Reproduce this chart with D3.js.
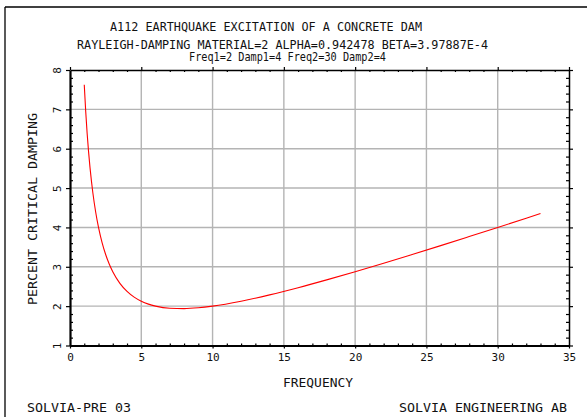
<!DOCTYPE html>
<html>
<head>
<meta charset="utf-8">
<script src="https://cdn.jsdelivr.net/npm/d3@7"></script>
<style>
  html, body { margin: 0; padding: 0; background: #fff; }
  svg { display: block; }
  text { font-family: "DejaVu Sans Mono", "Liberation Mono", monospace; fill: #111; }
</style>
</head>
<body>
<svg id="chart" width="587" height="417"></svg>
<script>
// Damping ratio (percent of critical) against frequency
const frequency = [1, 1.1, 1.2, 1.3, 1.4, 1.5, 1.6, 1.8, 2, 2.25, 2.5, 2.75, 3, 3.5, 4, 4.5, 5, 5.5, 6, 7, 8, 9, 10, 12, 14, 16, 18, 20, 22, 24, 26, 28, 30, 32, 33];
const damping   = [7.625, 6.956, 6.40, 5.932, 5.532, 5.188, 4.888, 4.392, 4.0, 3.615, 3.313, 3.071, 2.875, 2.580, 2.375, 2.229, 2.125, 2.051, 2.0, 1.946, 1.938, 1.958, 2.0, 2.125, 2.286, 2.469, 2.667, 2.875, 3.091, 3.313, 3.538, 3.768, 4.0, 4.234, 4.352];

const xTicks = [0, 5, 10, 15, 20, 25, 30, 35];
const yTicks = [1, 2, 3, 4, 5, 6, 7, 8];
const xGrid = [5, 10, 15, 20, 25, 30];
const yGrid = [2, 3, 4, 5, 6, 7];

const titleLines = [
  "A112 EARTHQUAKE EXCITATION OF A CONCRETE DAM",
  "RAYLEIGH-DAMPING MATERIAL=2 ALPHA=0.942478 BETA=3.97887E-4",
  "Freq1=2 Damp1=4 Freq2=30 Damp2=4"
];
const xTitle = "FREQUENCY";
const yTitle = "PERCENT CRITICAL DAMPING";
const footerLeft = "SOLVIA-PRE 03";
const footerRight = "SOLVIA ENGINEERING AB";

const svg = d3.select("#chart");

const x = d3.scaleLinear().domain([0, 35]).range([70, 569]);
const y = d3.scaleLinear().domain([1, 8]).range([345.5, 70]);

// page frame
svg.append("line").attr("x1", 5).attr("x2", 5).attr("y1", 7).attr("y2", 417)
  .attr("stroke", "#000").attr("stroke-width", 1.3);
svg.append("line").attr("x1", 5).attr("x2", 587).attr("y1", 7).attr("y2", 7)
  .attr("stroke", "#000").attr("stroke-width", 1.3);

// grid
svg.append("g").selectAll("line").data(xGrid).join("line")
  .attr("x1", d => x(d)).attr("x2", d => x(d))
  .attr("y1", y(8)).attr("y2", y(1))
  .attr("stroke", "#b4b4b4").attr("stroke-width", 1.4);
svg.append("g").selectAll("line").data(yGrid).join("line")
  .attr("x1", x(0)).attr("x2", x(35))
  .attr("y1", d => y(d)).attr("y2", d => y(d))
  .attr("stroke", "#b4b4b4").attr("stroke-width", 1.4);

const yMinor = d3.range(1, 8.001, 0.2).filter(v => Math.abs(v - Math.round(v)) > 1e-6);
const xMinor = d3.range(0, 35.001, 1).filter(v => v % 5 !== 0);

function styleAxis(g, width) {
  g.select(".domain").attr("stroke", "#000").attr("stroke-width", width);
  g.selectAll(".tick line").attr("stroke", "#000").attr("stroke-width", 1.2);
}

// left axis: major ticks outward with rotated labels
const axLeft = svg.append("g").attr("transform", `translate(${x(0)},0)`)
  .call(d3.axisLeft(y).tickValues(yTicks).tickSize(4).tickSizeOuter(0).tickFormat(d3.format("d")));
styleAxis(axLeft, 2.2);
axLeft.selectAll(".tick text")
  .attr("transform", "rotate(-90)")
  .attr("x", 0).attr("y", -9).attr("dy", 0)
  .attr("text-anchor", "middle")
  .style("font-size", "11px");
// left axis minor ticks, inside
svg.append("g").attr("transform", `translate(${x(0)},0)`)
  .call(d3.axisRight(y).tickValues(yMinor).tickSize(3).tickFormat(""))
  .call(g => g.select(".domain").remove())
  .selectAll(".tick line").attr("stroke", "#000").attr("stroke-width", 1.2);

// right axis
const axRight = svg.append("g").attr("transform", `translate(${x(35)},0)`)
  .call(d3.axisRight(y).tickValues(yTicks).tickSize(4).tickSizeOuter(0).tickFormat(""));
styleAxis(axRight, 1.5);
svg.append("g").attr("transform", `translate(${x(35)},0)`)
  .call(d3.axisLeft(y).tickValues(yMinor).tickSize(3).tickFormat(""))
  .call(g => g.select(".domain").remove())
  .selectAll(".tick line").attr("stroke", "#000").attr("stroke-width", 1.2);

// bottom axis
const axBottom = svg.append("g").attr("transform", `translate(0,${y(1)})`)
  .call(d3.axisBottom(x).tickValues(xTicks).tickSize(3).tickSizeOuter(0).tickFormat(d3.format("d")));
styleAxis(axBottom, 2);
axBottom.selectAll(".tick text").attr("y", 8).attr("dy", "0.71em").style("font-size", "11px");
svg.append("g").attr("transform", `translate(0,${y(1)})`)
  .call(d3.axisTop(x).tickValues(xMinor).tickSize(2).tickFormat(""))
  .call(g => g.select(".domain").remove())
  .selectAll(".tick line").attr("stroke", "#000").attr("stroke-width", 1.2);

// top axis
const axTop = svg.append("g").attr("transform", `translate(0,${y(8)})`)
  .call(d3.axisTop(x).tickValues(xTicks).tickSize(3).tickSizeOuter(0).tickFormat(""));
styleAxis(axTop, 1.6);
svg.append("g").attr("transform", `translate(0,${y(8)})`)
  .call(d3.axisBottom(x).tickValues(xMinor).tickSize(2).tickFormat(""))
  .call(g => g.select(".domain").remove())
  .selectAll(".tick line").attr("stroke", "#000").attr("stroke-width", 1.2);

// damping curve
const pts = frequency.map((f, i) => [f, damping[i]]);
svg.append("path")
  .datum(pts)
  .attr("fill", "none")
  .attr("stroke", "#ff0000")
  .attr("stroke-width", 1.1)
  .attr("d", d3.line().x(d => x(d[0])).y(d => y(d[1])).curve(d3.curveMonotoneX));

// titles
const titleSpec = [
  { x: 110, y: 31,   len: 312, size: 13 },
  { x: 77,  y: 48.5, len: 411, size: 13 },
  { x: 189, y: 61,   len: 197, size: 11.5 }
];
svg.append("g").selectAll("text").data(titleLines).join("text")
  .attr("x", (d, i) => titleSpec[i].x)
  .attr("y", (d, i) => titleSpec[i].y)
  .attr("textLength", (d, i) => titleSpec[i].len)
  .attr("lengthAdjust", "spacingAndGlyphs")
  .style("font-size", (d, i) => titleSpec[i].size + "px")
  .text(d => d);

// axis titles
svg.append("text")
  .attr("x", 283).attr("y", 387)
  .attr("textLength", 70).attr("lengthAdjust", "spacingAndGlyphs")
  .style("font-size", "13px")
  .text(xTitle);
svg.append("text")
  .attr("transform", "translate(37,305) rotate(-90)")
  .attr("textLength", 192).attr("lengthAdjust", "spacingAndGlyphs")
  .style("font-size", "13px")
  .text(yTitle);

// footer
svg.append("text")
  .attr("x", 27).attr("y", 412)
  .attr("textLength", 104).attr("lengthAdjust", "spacingAndGlyphs")
  .style("font-size", "13px")
  .text(footerLeft);
svg.append("text")
  .attr("x", 399).attr("y", 412)
  .attr("textLength", 168).attr("lengthAdjust", "spacingAndGlyphs")
  .style("font-size", "13px")
  .text(footerRight);
</script>
</body>
</html>
